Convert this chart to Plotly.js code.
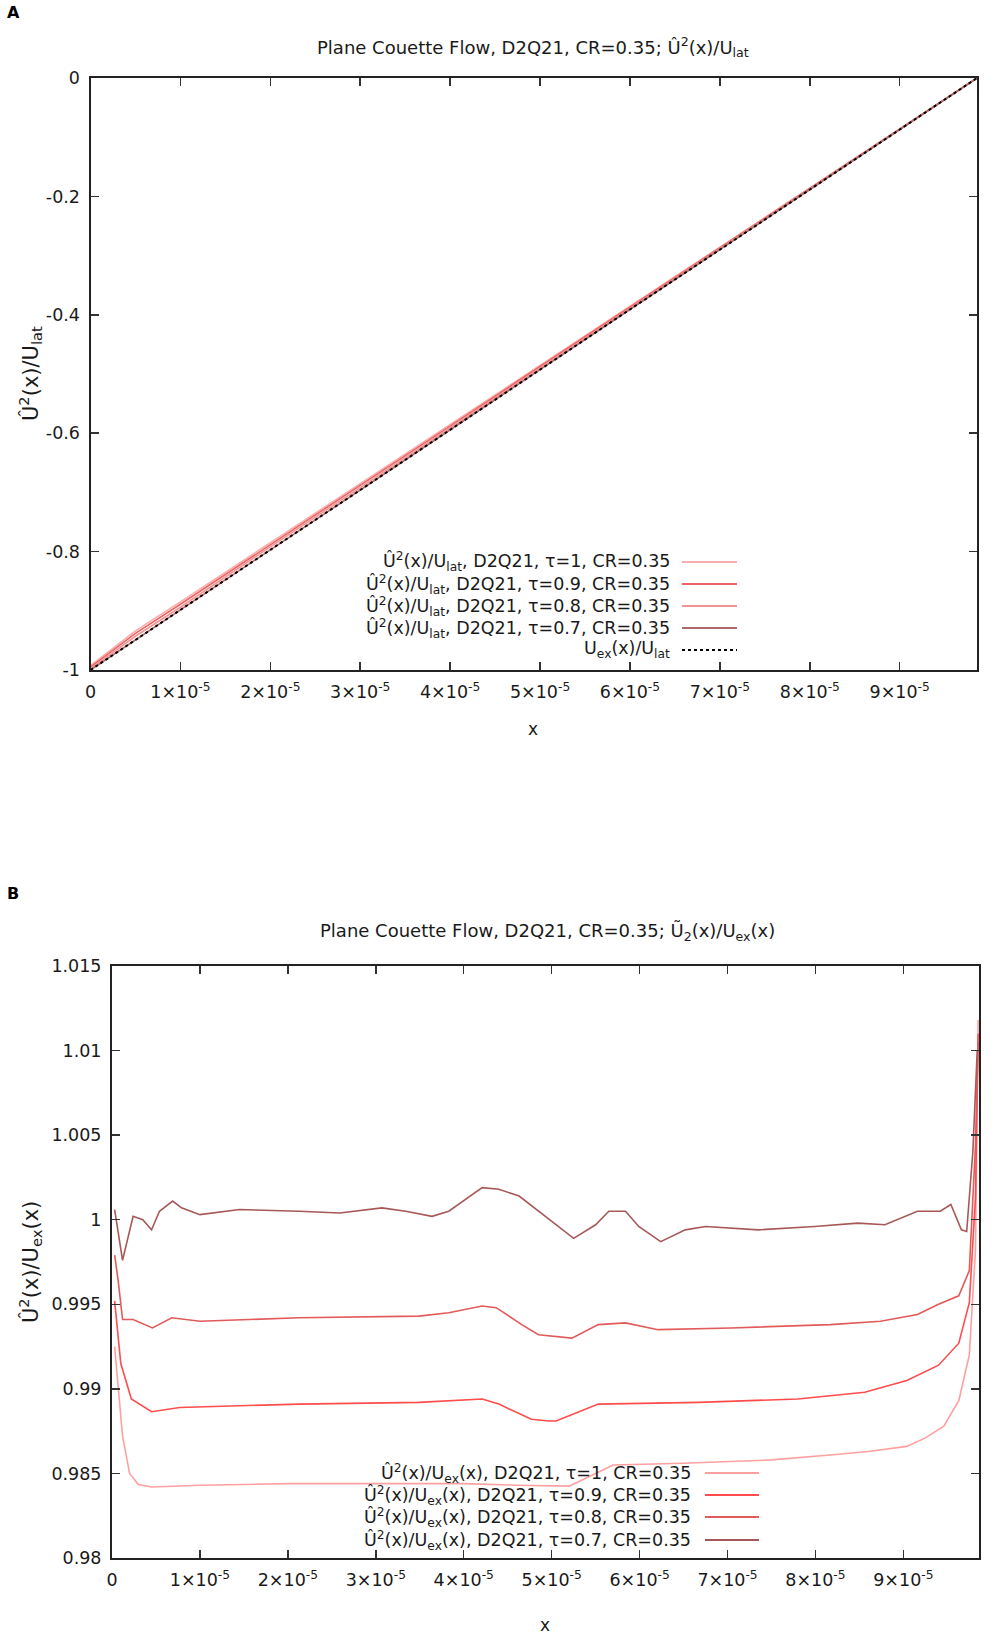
<!DOCTYPE html>
<html>
<head>
<meta charset="utf-8">
<script src="https://cdn.plot.ly/plotly-3.0.1.min.js"></script>
<style>
  html, body { margin: 0; padding: 0; background: #fff; }
  #chart { width: 997px; height: 1637px; }
</style>
</head>
<body>
<div id="chart"></div>
<script>
// ---- panel A: Û²(x)/U_lat ----
var xA = [0, 0.5e-5, 1e-5, 2e-5, 3e-5, 4e-5, 5e-5, 6e-5, 7e-5, 8e-5, 9e-5, 9.5e-5, 9.86e-5];
var uA_t10 = [-0.9925, -0.934, -0.885, -0.785, -0.685, -0.585, -0.486, -0.386, -0.286, -0.186, -0.086, -0.036, 0];
var uA_t09 = [-0.995, -0.938, -0.889, -0.788, -0.688, -0.588, -0.487, -0.387, -0.287, -0.187, -0.086, -0.036, 0];
var uA_t08 = [-0.998, -0.943, -0.894, -0.792, -0.692, -0.591, -0.490, -0.389, -0.288, -0.188, -0.087, -0.037, 0];
var uA_t07 = [-1.000, -0.949, -0.899, -0.797, -0.696, -0.594, -0.493, -0.391, -0.290, -0.189, -0.087, -0.037, 0];
var uA_ex  = [-1.000, -0.949, -0.899, -0.797, -0.696, -0.594, -0.493, -0.391, -0.290, -0.189, -0.087, -0.037, 0];

// ---- panel B: Û²(x)/U_ex(x) ----
var xB_t10 = [0.03e-5, 0.12e-5, 0.2e-5, 0.3e-5, 0.45e-5, 1.0e-5, 2.0e-5, 3.0e-5, 4.0e-5, 4.6e-5, 5.2e-5, 5.5e-5, 5.7e-5, 6.5e-5, 7.5e-5, 8.2e-5, 8.6e-5, 9.04e-5, 9.25e-5, 9.46e-5, 9.63e-5, 9.75e-5, 9.82e-5, 9.85e-5];
var rB_t10 = [0.9925, 0.9872, 0.9850, 0.98435, 0.9842, 0.9843, 0.9844, 0.9844, 0.9844, 0.9843, 0.98425, 0.9850, 0.9855, 0.9856, 0.9858, 0.9861, 0.9863, 0.9866, 0.9871, 0.9878, 0.9893, 0.9920, 0.9982, 1.0118];

var xB_t09 = [0.03e-5, 0.10e-5, 0.22e-5, 0.45e-5, 0.77e-5, 2.13e-5, 3.49e-5, 4.21e-5, 4.40e-5, 4.77e-5, 4.97e-5, 5.05e-5, 5.53e-5, 6.67e-5, 7.80e-5, 8.56e-5, 9.04e-5, 9.40e-5, 9.63e-5, 9.75e-5, 9.82e-5, 9.85e-5];
var rB_t09 = [0.9952, 0.9915, 0.9894, 0.98865, 0.9889, 0.9891, 0.9892, 0.9894, 0.9891, 0.9882, 0.9881, 0.9881, 0.9891, 0.9892, 0.9894, 0.9898, 0.9905, 0.9914, 0.9927, 0.9951, 1.0013, 1.0110];

var xB_t08 = [0.03e-5, 0.07e-5, 0.12e-5, 0.24e-5, 0.46e-5, 0.68e-5, 1.0e-5, 2.13e-5, 3.49e-5, 3.83e-5, 4.21e-5, 4.37e-5, 4.66e-5, 4.85e-5, 5.23e-5, 5.53e-5, 5.84e-5, 6.21e-5, 7.04e-5, 8.17e-5, 8.74e-5, 9.16e-5, 9.40e-5, 9.63e-5, 9.75e-5, 9.82e-5, 9.85e-5];
var rB_t08 = [0.9979, 0.9964, 0.9941, 0.9941, 0.9936, 0.9942, 0.9940, 0.9942, 0.9943, 0.9945, 0.9949, 0.9948, 0.9938, 0.9932, 0.9930, 0.9938, 0.9939, 0.9935, 0.9936, 0.9938, 0.9940, 0.9944, 0.9950, 0.9955, 0.9970, 1.0044, 1.0105];

var xB_t07 = [0.03e-5, 0.12e-5, 0.24e-5, 0.35e-5, 0.45e-5, 0.54e-5, 0.69e-5, 0.79e-5, 1.0e-5, 1.45e-5, 2.13e-5, 2.59e-5, 3.07e-5, 3.34e-5, 3.64e-5, 3.83e-5, 4.21e-5, 4.40e-5, 4.63e-5, 4.85e-5, 5.08e-5, 5.25e-5, 5.50e-5, 5.65e-5, 5.84e-5, 5.99e-5, 6.24e-5, 6.52e-5, 6.75e-5, 7.35e-5, 7.99e-5, 8.48e-5, 8.79e-5, 9.16e-5, 9.42e-5, 9.54e-5, 9.66e-5, 9.72e-5, 9.79e-5, 9.84e-5];
var rB_t07 = [1.0006, 0.9976, 1.0002, 1.0000, 0.9994, 1.0005, 1.0011, 1.0007, 1.0003, 1.0006, 1.0005, 1.0004, 1.0007, 1.0005, 1.0002, 1.0005, 1.0019, 1.0018, 1.0014, 1.0005, 0.9996, 0.9989, 0.9997, 1.0005, 1.0005, 0.9996, 0.9987, 0.9994, 0.9996, 0.9994, 0.9996, 0.9998, 0.9997, 1.0005, 1.0005, 1.0009, 0.9994, 0.9993, 1.0040, 1.0100];

var xTickVals = [0, 1e-5, 2e-5, 3e-5, 4e-5, 5e-5, 6e-5, 7e-5, 8e-5, 9e-5];
var xTickText = ['0', '1×10<sup>-5</sup>', '2×10<sup>-5</sup>', '3×10<sup>-5</sup>', '4×10<sup>-5</sup>',
                 '5×10<sup>-5</sup>', '6×10<sup>-5</sup>', '7×10<sup>-5</sup>', '8×10<sup>-5</sup>', '9×10<sup>-5</sup>'];
var yTickValsA = [-1, -0.8, -0.6, -0.4, -0.2, 0];
var yTickTextA = ['-1', '-0.8', '-0.6', '-0.4', '-0.2', '0'];
var yTickValsB = [0.98, 0.985, 0.99, 0.995, 1, 1.005, 1.01, 1.015];
var yTickTextB = ['0.98', '0.985', '0.99', '0.995', '1', '1.005', '1.01', '1.015'];

var tauLabels = ['1', '0.9', '0.8', '0.7'];
var colA = ['#f7aeae', '#f06262', '#f49494', '#ad6a6a'];
var colB = ['#ffa0a0', '#ff4c4c', '#e25a5a', '#a85858'];

// pixel helpers (page is 997 x 1637, no margins)
var W = 997, H = 1637;
function px(v) { return v / W; }
function py(v) { return 1 - v / H; }

var FONT = 'DejaVu Sans, Verdana, sans-serif';
var TXT = '#1a1a1a';

function line(x, y, color, xa, ya, dash, width) {
  return { x: x, y: y, type: 'scatter', mode: 'lines', xaxis: xa, yaxis: ya,
           line: { color: color, width: width || 1.6, dash: dash || 'solid' }, hoverinfo: 'skip' };
}

var data = [
  line(xA, uA_t10, colA[0], 'x', 'y'),
  line(xA, uA_t09, colA[1], 'x', 'y'),
  line(xA, uA_t08, colA[2], 'x', 'y'),
  line(xA, uA_t07, colA[3], 'x', 'y'),
  line(xA, uA_ex, '#000000', 'x', 'y', 'dot', 2),
  line(xB_t10, rB_t10, colB[0], 'x2', 'y2'),
  line(xB_t09, rB_t09, colB[1], 'x2', 'y2'),
  line(xB_t08, rB_t08, colB[2], 'x2', 'y2'),
  line(xB_t07, rB_t07, colB[3], 'x2', 'y2')
];

function axisBase() {
  return {
    showgrid: false, zeroline: false, showline: true, linecolor: '#222', linewidth: 2,
    mirror: 'allticks', ticks: 'inside', ticklen: 8, tickwidth: 1.5, tickcolor: '#333',
    tickfont: { family: FONT, size: 17.5, color: TXT }, ticklabelstandoff: 5, fixedrange: true
  };
}

var xa1 = Object.assign(axisBase(), { domain: [px(90.5), px(977)], anchor: 'y', range: [0, 9.86e-5],
  tickmode: 'array', tickvals: xTickVals, ticktext: xTickText });
var ya1 = Object.assign(axisBase(), { domain: [py(670), py(78)], anchor: 'x', range: [-1, 0],
  tickmode: 'array', tickvals: yTickValsA, ticktext: yTickTextA });
var xa2 = Object.assign(axisBase(), { domain: [px(112), px(979)], anchor: 'y2', range: [0, 9.86e-5],
  tickmode: 'array', tickvals: xTickVals, ticktext: xTickText });
var ya2 = Object.assign(axisBase(), { domain: [py(1558), py(966)], anchor: 'x2', range: [0.98, 1.015],
  tickmode: 'array', tickvals: yTickValsB, ticktext: yTickTextB });

var ann = [];
var shapes = [];
function txt(x, y, text, size, opts) {
  ann.push(Object.assign({ xref: 'paper', yref: 'paper', x: px(x), y: py(y), text: text, showarrow: false,
    xanchor: 'center', yanchor: 'middle', font: { family: FONT, size: size, color: TXT } }, opts || {}));
}

txt(5, 13, '<b>A</b>', 16, { xanchor: 'left', font: { family: 'DejaVu Sans, sans-serif', size: 16, color: '#000' } });
txt(5, 893, '<b>B</b>', 16, { xanchor: 'left', font: { family: 'DejaVu Sans, sans-serif', size: 16, color: '#000' } });
txt(533, 47, 'Plane Couette Flow, D2Q21, CR=0.35; Û<sup>2</sup>(x)/U<sub>lat</sub>', 18);
txt(547, 932, 'Plane Couette Flow, D2Q21, CR=0.35; Ũ<sub>2</sub>(x)/U<sub>ex</sub>(x)', 18);
txt(30, 374, 'Û<sup>2</sup>(x)/U<sub>lat</sub>', 21, { textangle: -90 });
txt(30, 1262, 'Û<sup>2</sup>(x)/U<sub>ex</sub>(x)', 21, { textangle: -90 });
txt(533, 729, 'x', 17);
txt(545, 1637, 'x', 17, { yanchor: 'bottom' });

// legend A (text right-aligned, key sample on the right)
var legA = tauLabels.map(function (t) { return 'Û<sup>2</sup>(x)/U<sub>lat</sub>, D2Q21, τ=' + t + ', CR=0.35'; });
legA.push('U<sub>ex</sub>(x)/U<sub>lat</sub>');
var rowsA = [562, 584, 606, 628, 650];
legA.forEach(function (t, i) {
  txt(672, rowsA[i], t, 17.5, { xanchor: 'right' });
  shapes.push({ type: 'line', xref: 'paper', yref: 'paper', x0: px(682), x1: px(737), y0: py(rowsA[i]), y1: py(rowsA[i]),
    line: { color: i < 4 ? colA[i] : '#000', width: 2, dash: i < 4 ? 'solid' : 'dot' } });
});

// legend B
var rowsB = [1473, 1495, 1517, 1540];
tauLabels.forEach(function (t, i) {
  txt(693, rowsB[i], 'Û<sup>2</sup>(x)/U<sub>ex</sub>(x), D2Q21, τ=' + t + ', CR=0.35', 17.5, { xanchor: 'right' });
  shapes.push({ type: 'line', xref: 'paper', yref: 'paper', x0: px(705), x1: px(759), y0: py(rowsB[i]), y1: py(rowsB[i]),
    line: { color: colB[i], width: 2 } });
});

var layout = {
  width: W, height: H, margin: { l: 0, r: 0, t: 0, b: 0 },
  paper_bgcolor: '#fff', plot_bgcolor: '#fff', showlegend: false,
  font: { family: FONT, color: TXT },
  xaxis: xa1, yaxis: ya1, xaxis2: xa2, yaxis2: ya2,
  annotations: ann, shapes: shapes
};

Plotly.newPlot('chart', data, layout, { staticPlot: true, displayModeBar: false });
</script>
</body>
</html>
